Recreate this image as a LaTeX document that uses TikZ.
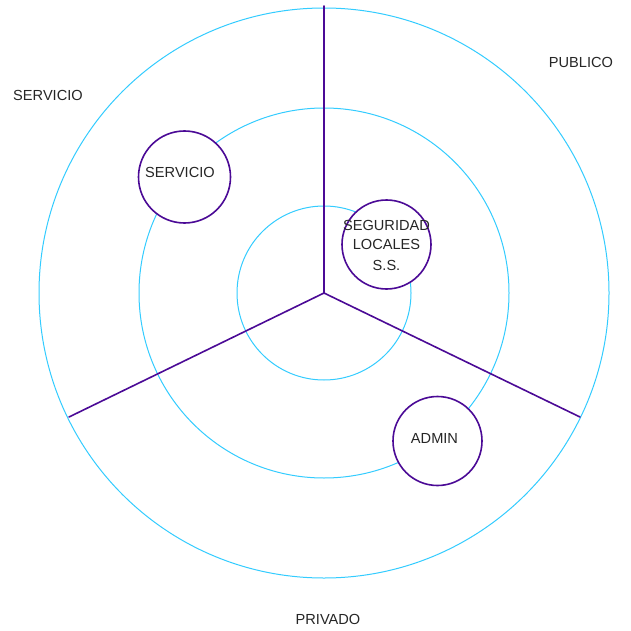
\documentclass[tikz,border=0pt]{standalone}
\usepackage{fontspec}
\setmainfont{Liberation Sans}
\usetikzlibrary{positioning}
\definecolor{ringcol}{RGB}{51,204,255}
\definecolor{zonecol}{RGB}{75,10,150}
\tikzset{
    lab/.style={
        font=\fontsize{14.6}{19}\selectfont, text=black!85, inner sep=0pt
    }
}

\begin{document}
\begin{tikzpicture}[x=1pt,y=-1pt, line cap=round, line join=round]

% background
\useasboundingbox[fill=white] (0,0) rectangle (630,631);

\tikzset{
  ring/.style={draw=ringcol, line width=1pt},
  spoke/.style={draw=zonecol, line width=1.6pt},
  zone/.style={circle, draw=zonecol, line width=1.6pt, fill=white, inner sep=0pt},
}

% rings
\coordinate (O) at (324,293);
\draw[ring] (O) circle[radius=285pt];
\draw[ring] (O) circle[radius=185pt];
\draw[ring] (O) circle[radius=87pt];

% spokes
\coordinate (T) at (324,6);
\coordinate (L) at (69,417);
\coordinate (R) at (580,417);
\draw[spoke] (O) -- (T);
\draw[spoke] (O) -- (L);
\draw[spoke] (O) -- (R);

% zones
\node[zone, minimum size=92pt] (serv) at (184.5,177) {};
\node[zone, minimum size=89pt] (segu) at (386.5,244.5) {};
\node[zone, minimum size=89pt] (admin) at (437.5,441) {};

% labels
\node[lab] (servtxt) at (180,172) {SERVICIO};
\node[lab, align=center] (segutxt) at (386.5,245.5) {SEGURIDAD\\LOCALES\\[2pt]S.S.};
\node[lab] (admintxt) at (434.5,438) {ADMIN};

\node[lab] (servicio) at (48,95) {SERVICIO};
\node[lab] (publico) at (581,62) {PUBLICO};
\node[lab] (privado) at (328,619) {PRIVADO};

\end{tikzpicture}
\end{document}
